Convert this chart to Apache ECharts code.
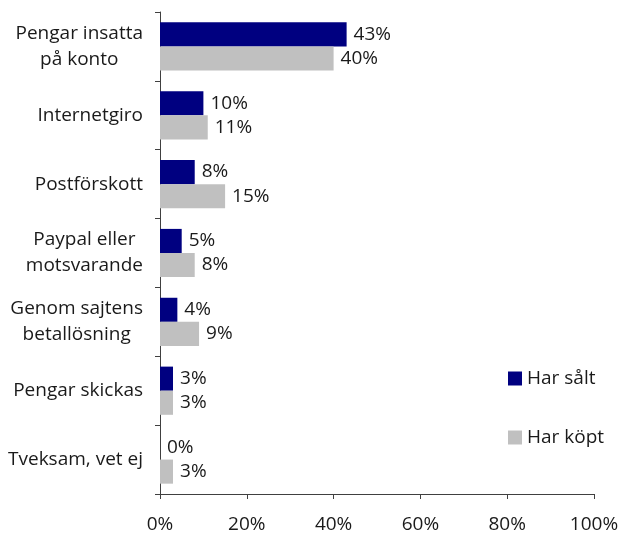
<!DOCTYPE html>
<html>
<head>
<meta charset="utf-8">
<script src="https://cdn.jsdelivr.net/npm/echarts@6/dist/echarts.min.js"></script>
<style>
  html, body { margin: 0; padding: 0; background: #fff; }
  #chart { width: 624px; height: 536px; }
</style>
</head>
<body>
<div id="chart"></div>
<script>
const categories = ['Pengar insatta\npå konto', 'Internetgiro', 'Postförskott', 'Paypal eller\nmotsvarande', 'Genom sajtens\nbetallösning', 'Pengar skickas', 'Tveksam, vet ej']
const harSalt = [43, 10, 8, 5, 4, 3, 0]
const harKopt = [40, 11, 15, 8, 9, 3, 3]
const xTicks = [0, 20, 40, 60, 80, 100]

const font = 'Open Sans'
const fs = 19
const axisColor = '#404040'
const textColor = '#1a1a1a'

// lines centred on each other, block right-aligned against the axis
const catLabel = v => v.split('\n').map(s => '{c|' + s + '}').join('\n')

const instance = echarts.init(document.getElementById('chart'))
instance.setOption({
  animation: false,
  textStyle: { fontFamily: font },
  grid: { left: 160, right: 30, top: 12, bottom: 42 },
  legend: {
    orient: 'vertical',
    left: 508,
    top: 369,
    padding: 0,
    itemWidth: 14,
    itemHeight: 14,
    itemGap: 40,
    icon: 'rect',
    textStyle: { fontFamily: font, fontSize: fs, color: textColor },
    data: ['Har sålt', 'Har köpt']
  },
  xAxis: {
    type: 'value',
    min: xTicks[0],
    max: xTicks[xTicks.length - 1],
    interval: 20,
    splitLine: { show: false },
    axisLine: { show: true, lineStyle: { color: axisColor } },
    axisTick: { show: true, length: 5, lineStyle: { color: axisColor } },
    axisLabel: { formatter: '{value}%', fontSize: fs, color: textColor, margin: 21, fontFamily: font }
  },
  yAxis: {
    type: 'category',
    inverse: true,
    data: categories,
    axisLine: { show: true, lineStyle: { color: axisColor } },
    axisTick: { show: true, length: 5, lineStyle: { color: axisColor } },
    axisLabel: {
      formatter: catLabel,
      margin: 17,
      rich: { c: { align: 'center', fontSize: fs, lineHeight: 26, color: textColor, fontFamily: font } }
    }
  },
  series: [
    {
      name: 'Har sålt', type: 'bar', data: harSalt,
      barGap: '0%', barCategoryGap: '30%',
      itemStyle: { color: '#000080' },
      label: { show: true, position: 'right', distance: 7, formatter: '{c}%', fontSize: fs, color: textColor, fontFamily: font }
    },
    {
      name: 'Har köpt', type: 'bar', data: harKopt,
      barGap: '0%', barCategoryGap: '30%',
      itemStyle: { color: '#c0c0c0' },
      label: { show: true, position: 'right', distance: 7, formatter: '{c}%', fontSize: fs, color: textColor, fontFamily: font }
    }
  ]
})
</script>
</body>
</html>
